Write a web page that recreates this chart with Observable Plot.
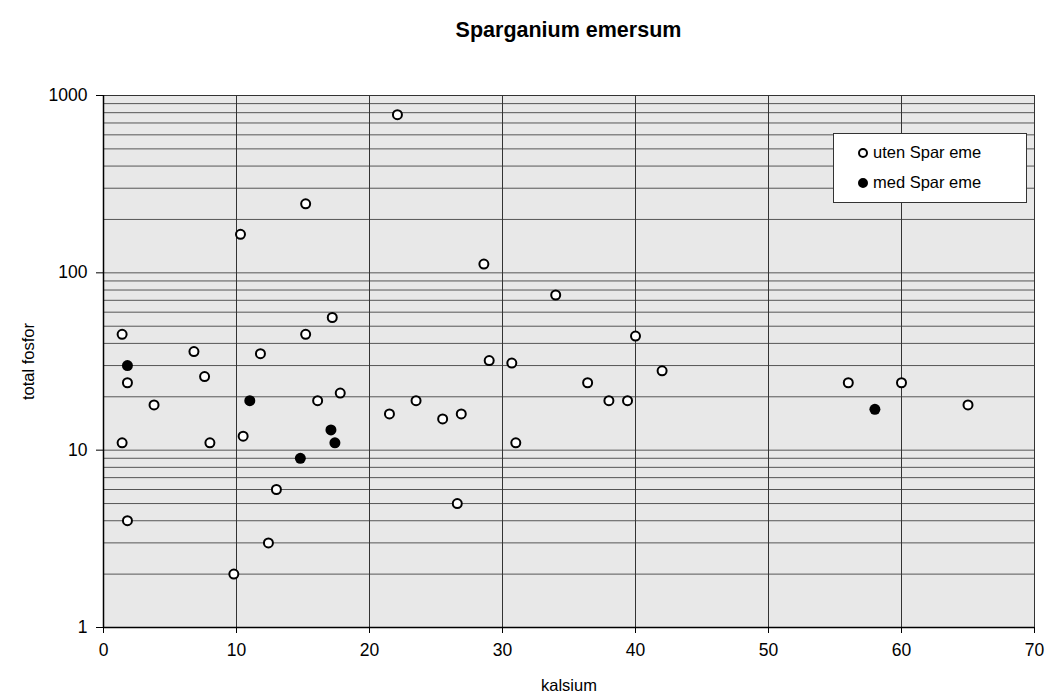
<!DOCTYPE html>
<html>
<head>
<meta charset="utf-8">
<script src="https://cdn.jsdelivr.net/npm/d3@7"></script>
<script src="https://cdn.jsdelivr.net/npm/@observablehq/plot@0.6"></script>
<style>
  body { margin: 0; background: #fff; font-family: "Liberation Sans", Arial, sans-serif; }
  #wrap { position: relative; width: 1051px; height: 699px; }
  #title { position: absolute; left: 103px; width: 931px; top: 18px; text-align: center; font-weight: bold; font-size: 21.5px; }
  #chart { position: absolute; left: 0; top: 62px; }
  #legend { position: absolute; left: 833px; top: 133px; width: 194px; height: 70px; box-sizing: border-box;
            border: 1.5px solid #333; background: #fff; font-size: 16.5px; }
  .li { position: absolute; left: 24px; display: flex; align-items: center; white-space: nowrap; }
  .sym { width: 6px; height: 6px; border-radius: 50%; border: 2px solid #000; margin-right: 5px; box-sizing: content-box; }
</style>
</head>
<body>
<div id="wrap">
  <div id="title">Sparganium emersum</div>
  <div id="chart"></div>
  <div id="legend">
    <div class="li" style="top:9px"><span class="sym" style="background:#fff"></span>uten Spar eme</div>
    <div class="li" style="top:39px"><span class="sym" style="background:#000"></span>med Spar eme</div>
  </div>
</div>
<script>
// uten Spar eme (open circles)
const utenKalsium = [1.4, 1.4, 1.8, 1.8, 3.8, 6.8, 7.6, 8.0, 9.8, 10.3, 10.5, 11.8, 12.4, 13.0, 15.2, 15.2, 16.1, 17.2, 17.8, 21.5, 22.1, 23.5, 25.5, 26.6, 26.9, 28.6, 29.0, 30.7, 31.0, 34.0, 36.4, 38.0, 39.4, 40.0, 42.0, 56.0, 60.0, 65.0];
const utenFosfor  = [45, 11, 24, 4, 18, 36, 26, 11, 2, 165, 12, 35, 3, 6, 245, 45, 19, 56, 21, 16, 780, 19, 15, 5, 16, 112, 32, 31, 11, 75, 24, 19, 19, 44, 28, 24, 24, 18];
// med Spar eme (filled circles)
const medKalsium = [1.8, 11.0, 14.8, 17.1, 17.4, 58.0];
const medFosfor  = [30, 19, 9, 13, 11, 17];

const xTicks = [0, 10, 20, 30, 40, 50, 60, 70];
const yTicks = [1, 10, 100, 1000];

const uten = utenKalsium.map((k, i) => ({kalsium: k, fosfor: utenFosfor[i]}));
const med = medKalsium.map((k, i) => ({kalsium: k, fosfor: medFosfor[i]}));
const yMinor = [];
for (const p of [1, 10, 100]) for (let m = 1; m < 10; m++) yMinor.push(m * p);
yMinor.push(1000);

const chart = Plot.plot({
  width: 1051,
  height: 637,
  marginLeft: 103,
  marginRight: 17,
  marginTop: 33,
  marginBottom: 72,
  style: {fontFamily: "'Liberation Sans', Arial, sans-serif", fontSize: "17.5px", color: "#000", background: "transparent"},
  x: {domain: [0, 70], label: null},
  y: {type: "log", domain: [1, 1000], label: null},
  marks: [
    Plot.frame({fill: "#e8e8e8", stroke: null}),
    Plot.ruleY(yMinor, {stroke: "#555", strokeWidth: 1}),
    Plot.ruleX(xTicks.slice(1, -1), {stroke: "#333", strokeWidth: 1}),
    Plot.frame({stroke: "#333", strokeWidth: 1}),
    Plot.ruleX([0], {stroke: "#000", strokeWidth: 1.5}),
    Plot.ruleY([1], {stroke: "#000", strokeWidth: 1.5}),
    Plot.axisX({ticks: xTicks, tickSize: 6, tickPadding: 10, tickFormat: d => String(d), label: null}),
    Plot.axisY({ticks: yTicks, tickSize: 7, tickPadding: 9, tickFormat: d => String(d), label: null}),
    Plot.dot(uten, {x: "kalsium", y: "fosfor", r: 4.5, stroke: "#000", strokeWidth: 2, fill: "#fff"}),
    Plot.dot(med, {x: "kalsium", y: "fosfor", r: 5.5, fill: "#000", stroke: null}),
    Plot.text(["kalsium"], {frameAnchor: "bottom", dy: 63, text: d => d, fontSize: 16.5}),
    Plot.text(["total fosfor"], {frameAnchor: "left", dx: -75, rotate: -90, textAnchor: "middle", text: d => d, fontSize: 16.5})
  ]
});
document.getElementById("chart").appendChild(chart);
</script>
</body>
</html>
